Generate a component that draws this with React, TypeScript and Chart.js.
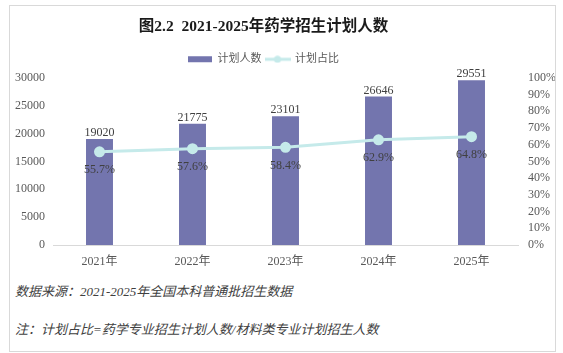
import React, { useEffect, useRef } from "react";
import { Chart, registerables } from "chart.js";

Chart.register(...registerables);

const categories = ["2021年", "2022年", "2023年", "2024年", "2025年"];
const planCounts = [19020, 21775, 23101, 26646, 29551];
const planShares = [0.557, 0.576, 0.584, 0.629, 0.648];
const leftTickValues = [0, 5000, 10000, 15000, 20000, 25000, 30000];
const rightTickValues = [0, 0.1, 0.2, 0.3, 0.4, 0.5, 0.6, 0.7, 0.8, 0.9, 1.0];

const titleText = "图2.2  2021-2025年药学招生计划人数";
const seriesNames = ["计划人数", "计划占比"];
const noteSource = "数据来源：2021-2025年全国本科普通批招生数据";
const noteFormula = "注：计划占比=药学专业招生计划人数/材料类专业计划招生人数";

const FONT = "'Liberation Serif', 'Noto Sans CJK SC', serif";
const BAR_COLOR = "#7375ae";
const LINE_COLOR = "#c5eaea";
const HEADER_SHIFT = -18;

function makeLineLegendIcon(): HTMLCanvasElement {
  const c = document.createElement("canvas");
  c.width = 26;
  c.height = 8;
  const g = c.getContext("2d")!;
  g.strokeStyle = LINE_COLOR;
  g.lineWidth = 3;
  g.beginPath();
  g.moveTo(0, 4);
  g.lineTo(26, 4);
  g.stroke();
  g.fillStyle = LINE_COLOR;
  g.beginPath();
  g.arc(13, 4, 3.6, 0, Math.PI * 2);
  g.fill();
  return c;
}

const headerShiftPlugin = {
  id: "headerShift",
  afterLayout(chart: any) {
    const boxes = [chart.titleBlock, chart.legend];
    boxes.forEach((b: any) => {
      if (b) {
        b.left += HEADER_SHIFT;
        b.right += HEADER_SHIFT;
      }
    });
  },
};

const labelPlugin = {
  id: "valueLabels",
  afterDatasetsDraw(chart: any) {
    const ctx = chart.ctx;
    ctx.save();
    ctx.font = `12px ${FONT}`;
    ctx.fillStyle = "#404040";
    ctx.textAlign = "center";
    ctx.textBaseline = "middle";
    const barMeta = chart.getDatasetMeta(0);
    barMeta.data.forEach((el: any, i: number) => {
      ctx.fillText(String(planCounts[i]), el.x, el.y - 6);
    });
    const lineMeta = chart.getDatasetMeta(1);
    lineMeta.data.forEach((el: any, i: number) => {
      ctx.fillText((planShares[i] * 100).toFixed(1) + "%", el.x, el.y + 18);
    });
    ctx.restore();
  },
};

function ChartView() {
  const ref = useRef<HTMLCanvasElement | null>(null);
  useEffect(() => {
    if (!ref.current) return;
    const lineIcon = makeLineLegendIcon();
    const chart = new Chart(ref.current, {
      type: "bar",
      data: {
        labels: categories,
        datasets: [
          {
            type: "bar",
            label: seriesNames[0],
            data: planCounts,
            backgroundColor: BAR_COLOR,
            borderWidth: 0,
            yAxisID: "y",
            order: 1,
            categoryPercentage: 1,
            barPercentage: 0.29,
          },
          {
            type: "line",
            label: seriesNames[1],
            data: planShares,
            borderColor: LINE_COLOR,
            backgroundColor: LINE_COLOR,
            borderWidth: 3,
            pointRadius: 4,
            pointBackgroundColor: LINE_COLOR,
            pointBorderColor: LINE_COLOR,
            yAxisID: "y1",
            order: 0,
          },
        ] as any,
      },
      options: {
        responsive: false,
        animation: false,
        layout: { padding: { left: 0, right: 0, top: 0, bottom: 0 } },
        plugins: {
          title: {
            display: true,
            text: titleText,
            color: "#1a1a1a",
            font: { family: FONT, size: 15.5, weight: "bold" },
            padding: { top: 17.5, bottom: 13.7 },
          },
          subtitle: {
            display: true,
            text: "",
            weight: 500,
            font: { size: 1 },
            padding: { top: 0, bottom: 1.8 },
          } as any,
          legend: {
            display: true,
            position: "top",
            labels: {
              usePointStyle: true,
              pointStyleWidth: 24,
              boxWidth: 24,
              boxHeight: 6,
              padding: 4,
              color: "#595959",
              font: { family: FONT, size: 11 },
              sort: (a: any, b: any) => a.datasetIndex - b.datasetIndex,
              generateLabels: (ch: any) => {
                const items = (Chart.defaults.plugins.legend.labels as any).generateLabels(ch);
                items.forEach((it: any) => {
                  if (it.datasetIndex === 1) {
                    it.pointStyle = lineIcon;
                  } else {
                    it.pointStyle = "rect";
                    it.lineWidth = 0;
                  }
                });
                return items;
              },
            },
          },
          tooltip: { enabled: false },
        },
        scales: {
          x: {
            grid: { display: false, drawTicks: false },
            border: { display: true, color: "#d9d9d9", width: 1 },
            ticks: { color: "#595959", font: { family: FONT, size: 12 }, padding: 10 },
            afterFit: (s: any) => {
              s.height = 25;
            },
          },
          y: {
            position: "left",
            min: 0,
            max: 30000,
            grid: { display: false, drawTicks: false },
            border: { display: false },
            afterBuildTicks: (s: any) => {
              s.ticks = leftTickValues.map((v) => ({ value: v }));
            },
            ticks: {
              autoSkip: false,
              color: "#595959",
              font: { family: FONT, size: 12 },
              padding: 8,
              callback: (v: any) => String(v),
            },
            afterFit: (s: any) => {
              s.width = 53;
            },
          },
          y1: {
            position: "right",
            min: 0,
            max: 1,
            grid: { display: false, drawTicks: false },
            border: { display: false },
            afterBuildTicks: (s: any) => {
              s.ticks = rightTickValues.map((v) => ({ value: v }));
            },
            ticks: {
              autoSkip: false,
              color: "#595959",
              font: { family: FONT, size: 12 },
              padding: 10,
              callback: (v: any) => Math.round(Number(v) * 100) + "%",
            },
            afterFit: (s: any) => {
              s.width = 45;
            },
          },
        },
      } as any,
      plugins: [headerShiftPlugin, labelPlugin],
    });
    return () => chart.destroy();
  }, []);
  return <canvas ref={ref} width={563} height={270} style={{ display: "block" }} />;
}

export default function App() {
  const noteStyle: React.CSSProperties = {
    position: "absolute",
    left: 15,
    fontFamily: FONT,
    fontStyle: "italic",
    fontSize: 13,
    lineHeight: "16px",
    color: "#404040",
    whiteSpace: "nowrap",
  };
  return (
    <div
      style={{
        position: "absolute",
        left: 0,
        top: 0,
        width: 563,
        height: 353,
        background: "#ffffff",
        overflow: "hidden",
      }}
    >
      <div style={{ position: "absolute", left: 0, top: 0 }}>
        <ChartView />
      </div>
      <div style={{ ...noteStyle, top: 284 }}>{noteSource}</div>
      <div style={{ ...noteStyle, top: 322 }}>{noteFormula}</div>
      <div
        style={{
          position: "absolute",
          left: 9,
          top: 5,
          width: 547,
          height: 347,
          border: "1px solid #d9d9d9",
          boxSizing: "border-box",
          pointerEvents: "none",
        }}
      />
    </div>
  );
}
